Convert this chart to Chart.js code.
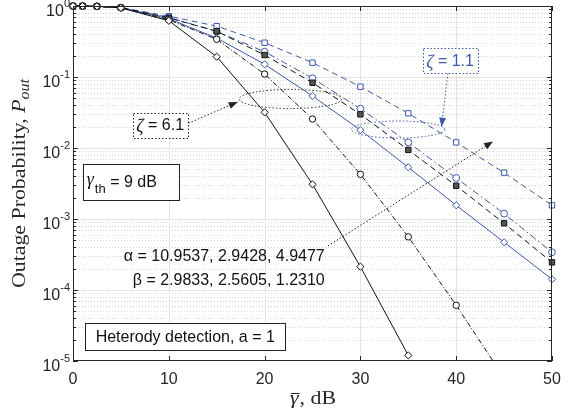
<!DOCTYPE html>
<html>
<head>
<meta charset="utf-8">
<script src="https://cdn.jsdelivr.net/npm/chart.js@4"></script>
<style>
  html, body { margin: 0; padding: 0; background: #fff; }
</style>
</head>
<body>
<canvas id="grafico" width="574" height="410"></canvas>
<script>
// Datos (SNR media en dB vs probabilidad de corte)
const snr = [0, 1, 2.5, 5, 10, 15, 20, 25, 30, 35, 40, 45, 50];

// zeta = 6.1 (negro)
const negroRombo   = [1, 0.998, 0.99, 0.94, 0.62, 0.193, 0.0318, 3.08e-3, 2.13e-4, 1.2e-5, null, null, null];
const negroCirculo = [1, 0.998, 0.99, 0.94, 0.64, 0.34, 0.110, 0.0256, 4.26e-3, 5.6e-4, 6.1e-5, 5.8e-6, null];
const negroCuadro  = [1, 0.998, 0.99, 0.945, 0.68, 0.44, 0.204, 0.083, 0.0298, 9.4e-3, 2.94e-3, 8.7e-4, 2.45e-4];

// zeta = 1.1 (azul)
const azulRombo    = [1, 0.998, 0.99, 0.945, 0.66, 0.354, 0.151, 0.054, 0.0179, 5.35e-3, 1.56e-3, 4.7e-4, 1.42e-4];
const azulCirculo  = [1, 0.998, 0.99, 0.95, 0.69, 0.44, 0.227, 0.096, 0.0358, 0.0120, 3.78e-3, 1.19e-3, 3.4e-4];
const azulCuadro   = [1, 0.998, 0.99, 0.95, 0.72, 0.52, 0.304, 0.159, 0.073, 0.0308, 0.0120, 4.49e-3, 1.56e-3];

// Marcas de los ejes
const xTicks = [0, 10, 20, 30, 40, 50];
const yExponentes = [0, -1, -2, -3, -4, -5];

const AZUL = '#3b59a9';
const TEXTO = '#262626';
const FUENTE = '"Liberation Sans", Arial, sans-serif';
const SERIF = '"Liberation Serif", "Times New Roman", serif';

function serie(valores, color, estilo, dash, relleno, radio) {
  return {
    data: snr.map((v, i) => ({ x: v, y: valores[i] })),
    borderColor: color,
    borderWidth: 1,
    borderDash: dash,
    pointStyle: estilo,
    pointRadius: radio,
    pointBorderColor: color,
    pointBackgroundColor: relleno,
    pointBorderWidth: 1,
    tension: 0,
    spanGaps: false,
    clip: { left: 6, top: 6, right: 6, bottom: 0 }
  };
}

function linea(ctx, x1, y1, x2, y2) {
  ctx.beginPath();
  ctx.moveTo(x1, y1);
  ctx.lineTo(x2, y2);
  ctx.stroke();
}

// texto estirado en horizontal (imita Computer Modern, mas ancha)
function textoAncho(ctx, txt, x, y, sx) {
  ctx.save();
  ctx.translate(x, y);
  ctx.scale(sx, 1);
  ctx.fillText(txt, 0, 0);
  ctx.restore();
  return ctx.measureText(txt).width * sx;
}

function flecha(ctx, x1, y1, x2, y2, color) {
  ctx.setLineDash([1.5, 2]);
  ctx.strokeStyle = color;
  linea(ctx, x1, y1, x2, y2);
  ctx.setLineDash([]);
  const ang = Math.atan2(y2 - y1, x2 - x1);
  const L = 9, W = 3.5;
  ctx.fillStyle = color;
  ctx.beginPath();
  ctx.moveTo(x2, y2);
  ctx.lineTo(x2 - L * Math.cos(ang) + W * Math.sin(ang), y2 - L * Math.sin(ang) - W * Math.cos(ang));
  ctx.lineTo(x2 - L * Math.cos(ang) - W * Math.sin(ang), y2 - L * Math.sin(ang) + W * Math.cos(ang));
  ctx.closePath();
  ctx.fill();
}

function caja(ctx, x1, y1, x2, y2, color, punteada) {
  ctx.fillStyle = '#fff';
  ctx.fillRect(x1, y1, x2 - x1, y2 - y1);
  ctx.strokeStyle = color;
  ctx.setLineDash(punteada ? [1.5, 2] : []);
  ctx.strokeRect(Math.round(x1) + 0.5, Math.round(y1) + 0.5, Math.round(x2 - x1), Math.round(y2 - y1));
  ctx.setLineDash([]);
}

function elipse(ctx, x1, y1, x2, y2, color) {
  ctx.strokeStyle = color;
  ctx.setLineDash([1.5, 2]);
  ctx.beginPath();
  ctx.ellipse((x1 + x2) / 2, (y1 + y2) / 2, (x2 - x1) / 2, (y2 - y1) / 2, 0, 0, 2 * Math.PI);
  ctx.stroke();
  ctx.setLineDash([]);
}

// Grilla estilo MATLAB (mayor solida, menor punteada)
const grilla = {
  id: 'grilla',
  beforeDatasetsDraw(chart) {
    const { ctx, chartArea: a, scales: { x, y } } = chart;
    ctx.save();
    ctx.lineWidth = 1;
    ctx.strokeStyle = '#d2d2d2';
    ctx.setLineDash([1, 2]);
    for (let e = -5; e < 0; e++) {
      for (let m = 2; m <= 9; m++) {
        const py = Math.round(y.getPixelForValue(m * Math.pow(10, e))) + 0.5;
        linea(ctx, a.left, py, a.right, py);
      }
    }
    ctx.setLineDash([]);
    ctx.strokeStyle = '#e3e3e3';
    yExponentes.forEach(e => {
      const py = Math.round(y.getPixelForValue(Math.pow(10, e))) + 0.5;
      if (py > a.top + 2 && py < a.bottom - 2) linea(ctx, a.left, py, a.right, py);
    });
    xTicks.forEach(v => {
      const px = Math.round(x.getPixelForValue(v)) + 0.5;
      if (px > a.left + 2 && px < a.right - 2) linea(ctx, px, a.top, px, a.bottom);
    });
    ctx.restore();
  },
  afterDatasetsDraw(chart) {
    const { ctx, chartArea: a, scales: { x, y } } = chart;
    const X = v => x.getPixelForValue(v);
    const Y = v => y.getPixelForValue(v);
    ctx.save();
    ctx.lineWidth = 1;

    // marco y marcas
    ctx.strokeStyle = TEXTO;
    ctx.strokeRect(a.left + 0.5, a.top + 0.5, a.right - a.left - 1, a.bottom - a.top - 1);
    for (let e = -5; e <= 0; e++) {
      const py = Math.round(Y(Math.pow(10, e))) + 0.5;
      linea(ctx, a.left, py, a.left + 5, py);
      linea(ctx, a.right - 5, py, a.right, py);
      if (e < 0) {
        for (let m = 2; m <= 9; m++) {
          const pm = Math.round(Y(m * Math.pow(10, e))) + 0.5;
          linea(ctx, a.left, pm, a.left + 3, pm);
          linea(ctx, a.right - 3, pm, a.right, pm);
        }
      }
    }
    xTicks.forEach(v => {
      const px = Math.round(X(v)) + 0.5;
      linea(ctx, px, a.bottom, px, a.bottom - 5);
      linea(ctx, px, a.top, px, a.top + 5);
    });

    // etiquetas de los ejes
    ctx.fillStyle = TEXTO;
    ctx.textBaseline = 'middle';
    ctx.textAlign = 'center';
    ctx.font = '16px ' + FUENTE;
    xTicks.forEach(v => ctx.fillText(String(v), X(v), a.bottom + 19));
    yExponentes.forEach(e => {
      const py = Y(Math.pow(10, e));
      ctx.textAlign = 'right';
      ctx.font = '11px ' + FUENTE;
      const exp = String(e);
      const we = ctx.measureText(exp).width;
      ctx.fillText(exp, a.left - 3, py - 2);
      ctx.font = '16px ' + FUENTE;
      ctx.fillText('10', a.left - 3 - we, py + 5.5);
    });

    // titulo eje x: gamma con barra, dB
    const SX = 1.15;
    ctx.textBaseline = 'alphabetic';
    ctx.textAlign = 'left';
    ctx.font = 'italic 19px ' + SERIF;
    const wg = ctx.measureText('\u03b3').width * SX;
    ctx.font = '19px ' + SERIF;
    const wr = ctx.measureText(', dB').width * SX;
    const x0 = (a.left + a.right) / 2 - (wg + wr) / 2;
    ctx.font = 'italic 19px ' + SERIF;
    textoAncho(ctx, '\u03b3', x0, 403.5, SX);
    ctx.font = '19px ' + SERIF;
    textoAncho(ctx, ', dB', x0 + wg + 1, 403.5, SX);
    linea(ctx, x0 + 1, 393.5, x0 + wg + 1, 393.5);

    // titulo eje y
    ctx.save();
    ctx.translate(0, (a.top + a.bottom) / 2);
    ctx.rotate(-Math.PI / 2);
    const t1 = 'Outage Probability, ';
    ctx.font = '19px ' + SERIF;
    const w1 = ctx.measureText(t1).width * SX;
    ctx.font = 'italic 19px ' + SERIF;
    const w2 = ctx.measureText('P').width * SX;
    ctx.font = 'italic 14px ' + SERIF;
    const w3 = ctx.measureText('out').width * SX;
    const u = -(w1 + w2 + w3) / 2;
    ctx.font = '19px ' + SERIF;
    textoAncho(ctx, t1, u, 25, SX);
    ctx.font = 'italic 19px ' + SERIF;
    textoAncho(ctx, 'P', u + w1, 25, SX);
    ctx.font = 'italic 14px ' + SERIF;
    textoAncho(ctx, 'out', u + w1 + w2, 29, SX);
    ctx.restore();

    // zeta = 6.1
    elipse(ctx, X(17.35), Y(0.0667), X(28.05), Y(0.036), '#222');
    flecha(ctx, X(12.03), Y(0.0223), X(17.19), Y(0.0445), '#222');
    caja(ctx, X(6.3), Y(0.0314), X(12.0), Y(0.01416), '#222', true);
    ctx.fillStyle = '#111';
    ctx.textBaseline = 'middle';
    ctx.textAlign = 'left';
    let zx = X(6.3) + 3, zy = Y(0.0211) + 1;
    ctx.font = 'italic 18px ' + SERIF;
    ctx.fillText('\u03b6', zx, zy + 1);
    let wz = ctx.measureText('\u03b6').width;
    ctx.font = '16px ' + FUENTE;
    ctx.fillText(' = 6.1', zx + wz, zy);

    // zeta = 1.1
    elipse(ctx, X(29.07), Y(0.024), X(38.82), Y(0.01383), AZUL);
    flecha(ctx, X(39.13), Y(0.1128), X(38.47), Y(0.01995), AZUL);
    caja(ctx, X(36.55), Y(0.2536), X(42.3), Y(0.1128), AZUL, true);
    ctx.fillStyle = AZUL;
    zx = X(36.55) + 3; zy = Y(0.169) + 1;
    ctx.font = 'italic 18px ' + SERIF;
    ctx.fillText('\u03b6', zx, zy + 1);
    ctx.font = '16px ' + FUENTE;
    ctx.fillText(' = 1.1', zx + wz, zy);

    // alpha / beta
    flecha(ctx, X(26.6), Y(4.17e-4), X(43.84), Y(0.01235), '#222');
    ctx.fillStyle = '#111';
    ctx.textAlign = 'right';
    ctx.fillText('\u03b1 = 10.9537, 2.9428, 4.9477', X(26.28), Y(2.92e-4));
    ctx.fillText('\u03b2 = 2.9833, 2.5605, 1.2310', X(26.28), Y(1.34e-4));

    // gamma_th
    caja(ctx, X(1.02), Y(5.89e-3), X(11.02), Y(1.853e-3), '#222', false);
    ctx.fillStyle = '#111';
    ctx.textAlign = 'left';
    const gx = X(1.02) + 4, gy = (Y(5.89e-3) + Y(1.853e-3)) / 2;
    ctx.font = 'italic 18px ' + SERIF;
    ctx.fillText('\u03b3', gx, gy - 2);
    const wgam = ctx.measureText('\u03b3').width;
    ctx.font = '13px ' + FUENTE;
    ctx.fillText('th', gx + wgam + 1, gy + 7);
    const wth = ctx.measureText('th').width;
    ctx.font = '16px ' + FUENTE;
    ctx.fillText(' = 9 dB', gx + wgam + wth + 1, gy);

    // deteccion heterodina
    caja(ctx, X(1.27), Y(3.4e-5), X(22.17), Y(1.43e-5), '#222', false);
    ctx.fillStyle = '#111';
    ctx.textAlign = 'center';
    ctx.fillText('Heterody detection, a = 1', (X(1.27) + X(22.17)) / 2, (Y(3.4e-5) + Y(1.43e-5)) / 2 + 1);

    ctx.restore();
  }
};

new Chart(document.getElementById('grafico'), {
  type: 'line',
  data: {
    datasets: [
      serie(negroRombo, '#111', 'rectRot', [], '#fff', 3.6),
      serie(negroCirculo, '#111', 'circle', [5, 2, 1, 2], '#fff', 3.2),
      serie(negroCuadro, '#111', 'rect', [6, 4], '#555', 3.8),
      serie(azulRombo, AZUL, 'rectRot', [], '#fff', 3.6),
      serie(azulCirculo, AZUL, 'circle', [7, 3, 1.5, 3], '#fff', 3.4),
      serie(azulCuadro, AZUL, 'rect', [6, 4], '#fff', 3.8)
    ]
  },
  options: {
    responsive: false,
    animation: false,
    devicePixelRatio: 1,
    layout: { padding: { top: 6, right: 22, left: 0, bottom: 0 } },
    plugins: { legend: { display: false }, tooltip: { enabled: false } },
    scales: {
      x: {
        type: 'linear', min: 0, max: 50,
        grid: { display: false }, border: { display: false },
        ticks: { display: false },
        afterFit(scale) { scale.height = 49; }
      },
      y: {
        type: 'logarithmic', min: 1e-5, max: 1,
        grid: { display: false }, border: { display: false },
        ticks: { display: false },
        afterFit(scale) { scale.width = 73; }
      }
    }
  },
  plugins: [grilla]
});
</script>
</body>
</html>
